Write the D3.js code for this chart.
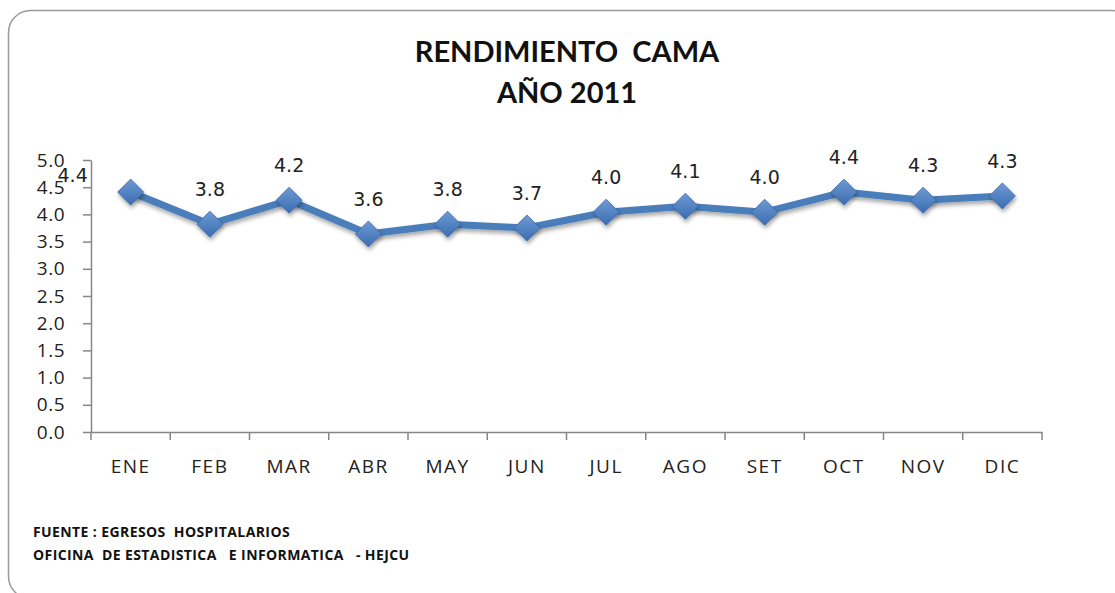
<!DOCTYPE html>
<html><head><meta charset="utf-8">
<script src="https://cdn.jsdelivr.net/npm/d3@7"></script>
<style>body{margin:0;background:#fff;overflow:hidden} text{white-space:pre}</style>
</head><body>
<svg id="c" width="1115" height="593"></svg>
<script>
const months = ["ENE","FEB","MAR","ABR","MAY","JUN","JUL","AGO","SET","OCT","NOV","DIC"];
const values = [4.41,3.82,4.26,3.64,3.82,3.75,4.04,4.15,4.04,4.41,4.26,4.34];
const valueLabels = ["4.4","3.8","4.2","3.6","3.8","3.7","4.0","4.1","4.0","4.4","4.3","4.3"];
const yTicks = [0,0.5,1,1.5,2,2.5,3,3.5,4,4.5,5];
const titleLines = ["RENDIMIENTO  CAMA","AÑO 2011"];
const footLines = ["FUENTE : EGRESOS  HOSPITALARIOS","OFICINA  DE ESTADISTICA   E INFORMATICA   - HEJCU"];

const svg = d3.select("#c");
const defs = svg.append("defs");
const f = defs.append("filter").attr("id","sh").attr("x","-50%").attr("y","-50%").attr("width","200%").attr("height","200%");
f.append("feDropShadow").attr("dx",1).attr("dy",3).attr("stdDeviation",2).attr("flood-color","#000").attr("flood-opacity",0.35);
const g1 = defs.append("linearGradient").attr("id","mg").attr("x1",0).attr("y1",0).attr("x2",0).attr("y2",1);
g1.append("stop").attr("offset","0").attr("stop-color","#6e9ad4");
g1.append("stop").attr("offset","1").attr("stop-color","#3b6db0");

// border
svg.append("rect").attr("x",8.5).attr("y",10.5).attr("width",1125).attr("height",588)
  .attr("rx",22).attr("fill","none").attr("stroke","#9a9a9a").attr("stroke-width",1.5);

// title
svg.append("g").selectAll("text").data(titleLines).join("text")
  .attr("x",567).attr("y",(d,i)=>62+i*41).attr("text-anchor","middle")
  .attr("font-family","Lato, 'Open Sans', sans-serif").attr("font-weight","bold")
  .attr("font-size",29).attr("fill","#111").text(d=>d);

const x = d3.scaleBand().domain(months).range([91,1042]);
const y = d3.scaleLinear().domain([0,5]).range([432,160]);

const ya = svg.append("g").attr("transform","translate(91,0)")
  .call(d3.axisLeft(y).tickValues(yTicks).tickFormat(d3.format(".1f")).tickSize(8).tickSizeOuter(0));
ya.select(".domain").attr("stroke","#868686").attr("stroke-width",1.5);
ya.selectAll(".tick line").attr("stroke","#868686").attr("stroke-width",1.5);
ya.selectAll("text").attr("font-family","'Open Sans', sans-serif").attr("font-size",19).attr("letter-spacing",0.5).attr("fill","#222").attr("x",-26);

const xa = svg.append("g").attr("transform","translate(0,432)")
  .call(d3.axisBottom(x).tickSize(0));
xa.select(".domain").attr("stroke","#868686").attr("stroke-width",1.5);
xa.selectAll("text").attr("font-family","'Open Sans', sans-serif").attr("font-size",19).attr("letter-spacing",1.5).attr("fill","#222").attr("dy",0).attr("y",41);
// category boundary ticks
svg.append("g").selectAll("line").data(months.concat(["_end"])).join("line")
  .attr("x1",(d,i)=>91+i*x.step()).attr("x2",(d,i)=>91+i*x.step())
  .attr("y1",432).attr("y2",440).attr("stroke","#868686").attr("stroke-width",1.5);

const cx = d=>x(d)+x.bandwidth()/2;
const line = d3.line().x((d,i)=>cx(months[i])).y(d=>y(d));
svg.append("path").datum(values).attr("d",line).attr("fill","none")
  .attr("stroke","#4a7ebb").attr("stroke-width",7).attr("stroke-linejoin","round").attr("filter","url(#sh)");

svg.append("g").selectAll("path").data(values).join("path")
  .attr("transform",(d,i)=>`translate(${cx(months[i])},${y(d)})`)
  .attr("d","M0,-13 L13,0 L0,13 L-13,0 Z")
  .attr("fill","url(#mg)").attr("stroke","#3a68a8").attr("stroke-width",0.8).attr("filter","url(#sh)");

svg.append("g").selectAll("text").data(values).join("text")
  .attr("x",(d,i)=> i===0 ? cx(months[i])-58 : cx(months[i]))
  .attr("y",(d,i)=> i===0 ? y(d)-10 : y(d)-28)
  .attr("text-anchor","middle")
  .attr("font-family","'DejaVu Sans', sans-serif").attr("font-size",19).attr("fill","#222")
  .text((d,i)=>valueLabels[i]);

svg.append("g").selectAll("text").data(footLines).join("text")
  .attr("x",33).attr("y",(d,i)=>537+i*23)
  .attr("font-family","'Open Sans', sans-serif").attr("font-weight","bold")
  .attr("font-size",14).attr("letter-spacing",0.4).attr("fill","#111").text(d=>d);
</script>
</body></html>
